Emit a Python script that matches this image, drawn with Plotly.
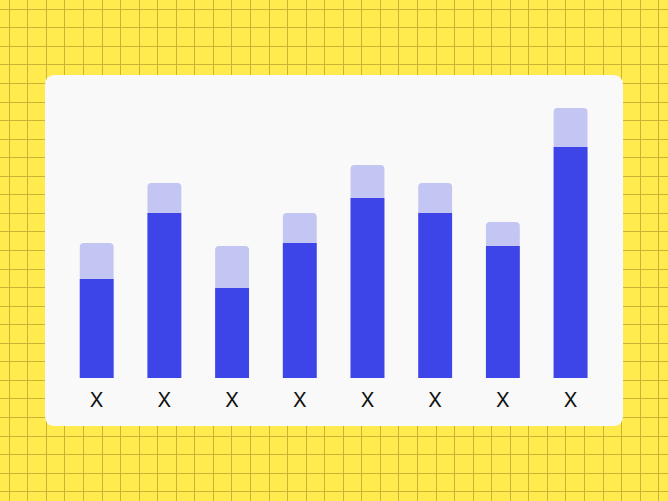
import plotly.graph_objects as go

# bar data
labels = ["X", "X", "X", "X", "X", "X", "X", "X"]
front_values = [33, 55, 30, 45, 60, 55, 44, 77]
back_values = [45, 65, 44, 55, 71, 65, 52, 90]

W, H = 668, 501
YELLOW = "#FFEB4D"
GRID = "#C9B436"
CARD = "#F9F9F9"
DARK = "#3D45E8"
LIGHT = "#C3C5F3"

positions = list(range(len(labels)))

fig = go.Figure()

# light (taller) bars behind, dark bars in front
fig.add_trace(go.Bar(
    x=positions, y=back_values, width=0.5,
    marker=dict(color=LIGHT, cornerradius=4, line=dict(width=0)),
    xaxis="x2", yaxis="y2", hoverinfo="skip"
))
fig.add_trace(go.Bar(
    x=positions, y=front_values, width=0.5,
    marker=dict(color=DARK, cornerradius=4, line=dict(width=0)),
    xaxis="x2", yaxis="y2", hoverinfo="skip"
))

# rounded white card, in pixel coords of the background axes
x0, y0, x1, y1, r = 45, 75, 623, 426, 10
card_path = (
    f"M {x0 + r} {y0} L {x1 - r} {y0} Q {x1} {y0} {x1} {y0 + r} "
    f"L {x1} {y1 - r} Q {x1} {y1} {x1 - r} {y1} "
    f"L {x0 + r} {y1} Q {x0} {y1} {x0} {y1 - r} "
    f"L {x0} {y0 + r} Q {x0} {y0} {x0 + r} {y0} Z"
)

fig.update_layout(
    width=W, height=H,
    margin=dict(l=0, r=0, t=0, b=0),
    paper_bgcolor=YELLOW,
    plot_bgcolor="rgba(0,0,0,0)",
    showlegend=False,
    barmode="overlay",
    font=dict(family="Inter, Roboto, sans-serif", color="#111111"),
    # background grid axes
    xaxis=dict(domain=[0, 1], range=[0, W], showgrid=True, gridcolor=GRID, gridwidth=1.2,
               tick0=W / 72, dtick=W / 36, showticklabels=False, zeroline=False,
               showline=False, fixedrange=True),
    yaxis=dict(domain=[0, 1], range=[H, 0], showgrid=True, gridcolor=GRID, gridwidth=1.2,
               tick0=H / 54, dtick=H / 27, showticklabels=False, zeroline=False,
               showline=False, fixedrange=True),
    # bar chart axes
    xaxis2=dict(domain=[62.85 / W, 604.4 / W], range=[-0.5, 7.5], anchor="y2",
                tickvals=positions, ticktext=labels, ticks="", showgrid=False,
                zeroline=False, showline=False, tickfont=dict(size=20, color="#111111"),
                ticklabelstandoff=8),
    yaxis2=dict(domain=[(H - 378) / H, (H - 78) / H], range=[0, 100], anchor="x2",
                showgrid=False, zeroline=False, showline=False, showticklabels=False),
    shapes=[dict(type="path", path=card_path, xref="x", yref="y", layer="between",
                 fillcolor=CARD, line=dict(width=0))],
)

# drop the default page margin so the figure fills the window
fig.write_html("out.html", config={"displayModeBar": False},
               post_script="document.body.style.margin='0';")
